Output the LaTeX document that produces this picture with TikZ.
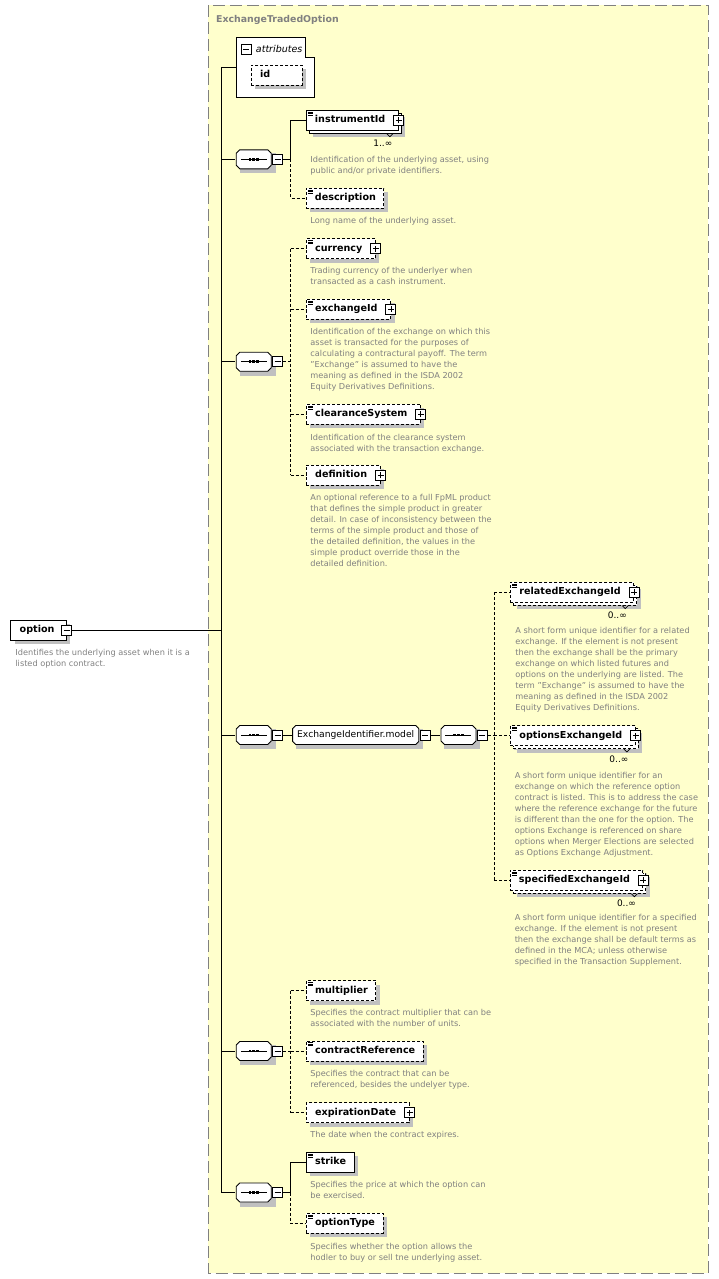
\documentclass[tikz,border=0pt]{standalone}
\usepackage{fontspec}
\setmainfont{DejaVu Sans}
\usetikzlibrary{shadows}

\definecolor{framefill}{RGB}{255,255,204}
\definecolor{framegrey}{RGB}{128,128,128}
\definecolor{shadowgrey}{RGB}{192,192,192}
\definecolor{docgrey}{RGB}{128,128,128}

% octagon outline drawn inside a node (cut size #1)
\newcommand\octframe[1]{%
  \draw[solid,fill=white,line width=0.9pt]
    ([shift={(#1,0.5)}]path picture bounding box.north west) -- ([shift={(-#1,0.5)}]path picture bounding box.north east)
    -- ([shift={(-0.5,#1)}]path picture bounding box.north east) -- ([shift={(-0.5,-#1)}]path picture bounding box.south east)
    -- ([shift={(-#1,-0.5)}]path picture bounding box.south east) -- ([shift={(#1,-0.5)}]path picture bounding box.south west)
    -- ([shift={(0.5,-#1)}]path picture bounding box.south west) -- ([shift={(0.5,#1)}]path picture bounding box.north west) -- cycle;}

\tikzset{
  optline/.style={dash pattern=on 3pt off 2pt},
  boxshadow/.style={drop shadow={shadow xshift=4pt,shadow yshift=-4pt,fill=shadowgrey,opacity=1}},
  elem/.style={draw,fill=white,anchor=west,inner xsep=0pt,inner ysep=0pt,
    minimum height=20pt,text height=7.3pt,text depth=2.2pt,
    font=\bfseries\fontsize{9.6}{11}\selectfont,
    execute at begin node={\hspace{9pt}},execute at end node={\hspace{#1}},boxshadow},
  elem/.default=8pt,
  optelem/.style={elem=#1,optline},
  optelem/.default=8pt,
  multi/.style={drop shadow={shadow xshift=7pt,shadow yshift=-7pt,fill=shadowgrey,opacity=1},
    copy shadow={shadow xshift=3pt,shadow yshift=-3pt,draw=black,fill=white,#1}},
  multi/.default=solid,
  docmark/.style={path picture={
    \foreach \k in {1.6,3.1,4.6}
      \draw[solid,line width=0.5pt] ([shift={(2,\k)}]path picture bounding box.north west) -- ++(5,0);}},
  togglebox/.style={draw,fill=white,solid,line width=1pt,minimum size=10pt,inner sep=0pt},
  minusbox/.style={togglebox,path picture={
    \draw[line width=0.9pt] ([xshift=2pt]path picture bounding box.west) -- ([xshift=-2pt]path picture bounding box.east);}},
  plusbox/.style={togglebox,path picture={
    \draw[line width=0.9pt] ([xshift=2pt]path picture bounding box.west) -- ([xshift=-2pt]path picture bounding box.east);
    \draw[line width=0.9pt] ([yshift=2pt]path picture bounding box.south) -- ([yshift=-2pt]path picture bounding box.north);}},
  seqbox/.style={rectangle,anchor=west,minimum width=36pt,minimum height=20pt,inner sep=0pt,boxshadow,
    path picture={\octframe{4}
      \draw[line width=0.9pt] ([xshift=5pt]path picture bounding box.west) -- ([xshift=-5pt]path picture bounding box.east);
      \foreach \d in {-3.8,0,3.8}
        \fill ([xshift=\d pt]path picture bounding box.center) ++(-1.4pt,-1.4pt) rectangle ++(2.8pt,2.8pt);}},
  model/.style={rectangle,anchor=west,minimum height=20pt,inner xsep=5pt,inner ysep=0pt,
    text height=7pt,text depth=2pt,font=\fontsize{9.2}{11}\selectfont,boxshadow,
    path picture={\octframe{3.5}}},
  doc/.style={anchor=north west,inner sep=0pt,align=left,text=docgrey,font=\fontsize{8.2}{11}\selectfont},
  multlabel/.style={anchor=north east,inner sep=0pt,font=\fontsize{9}{11}\selectfont},
  notch/.style={solid,line width=0.7pt}
}

\begin{document}
\begin{tikzpicture}[x=1pt,y=-1pt,line width=0.9pt]
\useasboundingbox (0,0) rectangle (719,1279);

%Shape: Frame
\draw[framegrey,fill=framefill,dash pattern=on 12pt off 5pt] (208.3,5.3) rectangle (708.3,1273);
% Text Node
\node[anchor=west,inner sep=0pt,text=framegrey,font=\bfseries\fontsize{9.4}{11}\selectfont] (title) at (215.7,19.5) {ExchangeTradedOption};

\coordinate (bus) at (221.5,0);
\coordinate (busA) at (290.5,0);
\coordinate (busC) at (494.3,0);

%Shape: option
\node[elem=11.6pt] (option) at (10.3,630.3) {option};
\node[minusbox] (optionm) at (option.east) {};
% Text Node
\node[doc] (optiondoc) at (15,649) {Identifies the underlying asset when it is a\\listed option contract.};

%Shape: attributes
\node[minimum width=77.7pt,minimum height=59.3pt,anchor=north west,inner sep=0pt] (attr) at (236.3,37.7) {};
\draw[fill=white] (attr.south west) |- ([xshift=-9.3pt]attr.north east) |- ([yshift=-19.3pt]attr.north east) -- (attr.south east) -- cycle;
\node[minusbox] (attrm) at (246.3,49.3) {};
\node[anchor=west,inner sep=0pt,font=\itshape\fontsize{9.5}{11}\selectfont] (attrlabel) at (255.5,49.3) {attributes};
\node[optelem=32pt] (id) at (250.7,75.3) {id};

%Shape: sequence 1
\node[seqbox] (seqA) at (235.3,159.3) {};
\node[minusbox,anchor=west] (seqAm) at (seqA.east) {};
\node[elem=13pt,multi,docmark] (instr) at (305.5,120.3) {instrumentId};
\node[plusbox] (instrp) at (instr.east) {};
\draw[notch] ([xshift=-12pt,yshift=-3pt]instr.south east) -- ++(3,3) -- ++(3,-3);
\node[multlabel] (instrmult) at ([xshift=-6pt,yshift=-9pt]instr.south east) {1..∞};
\node[doc] (instrdoc) at (310,156) {Identification of the underlying asset, using\\public and/or private identifiers.};
\node[optelem,docmark] (descr) at (305.5,198.3) {description};
\node[doc] (descrdoc) at (310,217) {Long name of the underlying asset.};

%Shape: sequence 2
\node[seqbox] (seqB) at (235.3,361.7) {};
\node[minusbox,anchor=west] (seqBm) at (seqB.east) {};
\node[optelem=13pt,docmark] (cur) at (305.7,248.7) {currency};
\node[plusbox] (curp) at (cur.east) {};
\node[doc] (curdoc) at (310,267) {Trading currency of the underlyer when\\transacted as a cash instrument.};
\node[optelem=13pt,docmark] (exch) at (305.7,309.2) {exchangeId};
\node[plusbox] (exchp) at (exch.east) {};
\node[doc] (exchdoc) at (310,328) {Identification of the exchange on which this\\asset is transacted for the purposes of\\calculating a contractural payoff. The term\\"Exchange" is assumed to have the\\meaning as defined in the ISDA 2002\\Equity Derivatives Definitions.};
\node[optelem=13pt,docmark] (clear) at (305.7,414.2) {clearanceSystem};
\node[plusbox] (clearp) at (clear.east) {};
\node[doc] (cleardoc) at (310,434) {Identification of the clearance system\\associated with the transaction exchange.};
\node[optelem=13pt] (defn) at (305.7,475.3) {definition};
\node[plusbox] (defnp) at (defn.east) {};
\node[doc] (defndoc) at (310,494) {An optional reference to a full FpML product\\that defines the simple product in greater\\detail. In case of inconsistency between the\\terms of the simple product and those of\\the detailed definition, the values in the\\simple product override those in the\\detailed definition.};

%Shape: sequence 3
\node[seqbox] (seqC) at (235.3,735) {};
\node[minusbox,anchor=west] (seqCm) at (seqC.east) {};
\node[model] (exmodel) at (291.7,735) {ExchangeIdentifier.model};
\node[minusbox,anchor=west] (exmodelm) at (exmodel.east) {};
\node[seqbox] (seqCC) at (440,735) {};
\node[minusbox,anchor=west] (seqCCm) at (seqCC.east) {};
\node[optelem=13pt,multi=optline,docmark] (relx) at (510,592.2) {relatedExchangeId};
\node[plusbox] (relxp) at (relx.east) {};
\draw[notch] ([xshift=-12pt,yshift=-3pt]relx.south east) -- ++(3,3) -- ++(3,-3);
\node[multlabel] (relxmult) at ([xshift=-7pt,yshift=-9pt]relx.south east) {0..∞};
\node[doc] (relxdoc) at (515,627) {A short form unique identifier for a related\\exchange. If the element is not present\\then the exchange shall be the primary\\exchange on which listed futures and\\options on the underlying are listed. The\\term "Exchange" is assumed to have the\\meaning as defined in the ISDA 2002\\Equity Derivatives Definitions.};
\node[optelem=13pt,multi=optline,docmark] (optx) at (510,735.5) {optionsExchangeId};
\node[plusbox] (optxp) at (optx.east) {};
\draw[notch] ([xshift=-12pt,yshift=-3pt]optx.south east) -- ++(3,3) -- ++(3,-3);
\node[multlabel] (optxmult) at ([xshift=-7pt,yshift=-9pt]optx.south east) {0..∞};
\node[doc] (optxdoc) at (514.3,772) {A short form unique identifier for an\\exchange on which the reference option\\contract is listed. This is to address the case\\where the reference exchange for the future\\is different than the one for the option. The\\options Exchange is referenced on share\\options when Merger Elections are selected\\as Options Exchange Adjustment.};
\node[optelem=13pt,multi=optline,docmark] (specx) at (509.5,880.2) {specifiedExchangeId};
\node[plusbox] (specxp) at (specx.east) {};
\draw[notch] ([xshift=-12pt,yshift=-3pt]specx.south east) -- ++(3,3) -- ++(3,-3);
\node[multlabel] (specxmult) at ([xshift=-7pt,yshift=-9pt]specx.south east) {0..∞};
\node[doc] (specxdoc) at (514.3,914) {A short form unique identifier for a specified\\exchange. If the element is not present\\then the exchange shall be default terms as\\defined in the MCA; unless otherwise\\specified in the Transaction Supplement.};

%Shape: sequence 4
\node[seqbox] (seqD) at (235.3,1051) {};
\node[minusbox,anchor=west] (seqDm) at (seqD.east) {};
\node[optelem,docmark] (multp) at (305.7,990.7) {multiplier};
\node[doc] (multpdoc) at (310,1009) {Specifies the contract multiplier that can be\\associated with the number of units.};
\node[optelem,docmark] (cref) at (305.7,1051) {contractReference};
\node[doc] (crefdoc) at (310,1070) {Specifies the contract that can be\\referenced, besides the undelyer type.};
\node[optelem=13pt] (expd) at (305.7,1112.7) {expirationDate};
\node[plusbox] (expdp) at (expd.east) {};
\node[doc] (expddoc) at (310,1131) {The date when the contract expires.};

%Shape: sequence 5
\node[seqbox] (seqE) at (235.3,1192.5) {};
\node[minusbox,anchor=west] (seqEm) at (seqE.east) {};
\node[elem,docmark] (strike) at (305.7,1162.3) {strike};
\node[doc] (strikedoc) at (310,1181) {Specifies the price at which the option can\\be exercised.};
\node[optelem,docmark] (otype) at (305.7,1223.3) {optionType};
\node[doc] (otypedoc) at (310,1242.5) {Specifies whether the option allows the\\hodler to buy or sell tne underlying asset.};

%Straight Lines: main bus
\draw (optionm.east) -- (optionm.east -| bus);
\draw (attr.west) -- (attr.west -| bus) -- (seqE.west -| bus) -- (seqE.west);
\foreach \s in {seqA,seqB,seqC,seqD}
  \draw (\s.west -| bus) -- (\s.west);

%Straight Lines: sequence 1
\draw (seqAm.east) -- (seqAm.east -| busA) -- (instr.west -| busA) -- (instr.west);
\draw[optline] (seqAm.east -| busA) -- (descr.west -| busA) -- (descr.west);

%Straight Lines: sequence 2
\draw[optline] (seqBm.east) -- (seqBm.east -| busA);
\draw[optline] (cur.west -| busA) -- (defn.west -| busA);
\foreach \n in {cur,exch,clear,defn}
  \draw[optline] (\n.west -| busA) -- (\n.west);

%Straight Lines: sequence 3
\draw (seqCm.east) -- (exmodel.west);
\draw (exmodelm.east) -- (seqCC.west);
\draw[optline] (seqCCm.east) -- (seqCCm.east -| busC);
\draw[optline] (relx.west -| busC) -- (specx.west -| busC);
\foreach \n in {relx,optx,specx}
  \draw[optline] (\n.west -| busC) -- (\n.west);

%Straight Lines: sequence 4
\draw[optline] (seqDm.east) -- (seqDm.east -| busA);
\draw[optline] (multp.west -| busA) -- (expd.west -| busA);
\foreach \n in {multp,cref,expd}
  \draw[optline] (\n.west -| busA) -- (\n.west);

%Straight Lines: sequence 5
\draw (seqEm.east) -- (seqEm.east -| busA) -- (strike.west -| busA) -- (strike.west);
\draw[optline] (seqEm.east -| busA) -- (otype.west -| busA) -- (otype.west);

\end{tikzpicture}
\end{document}
